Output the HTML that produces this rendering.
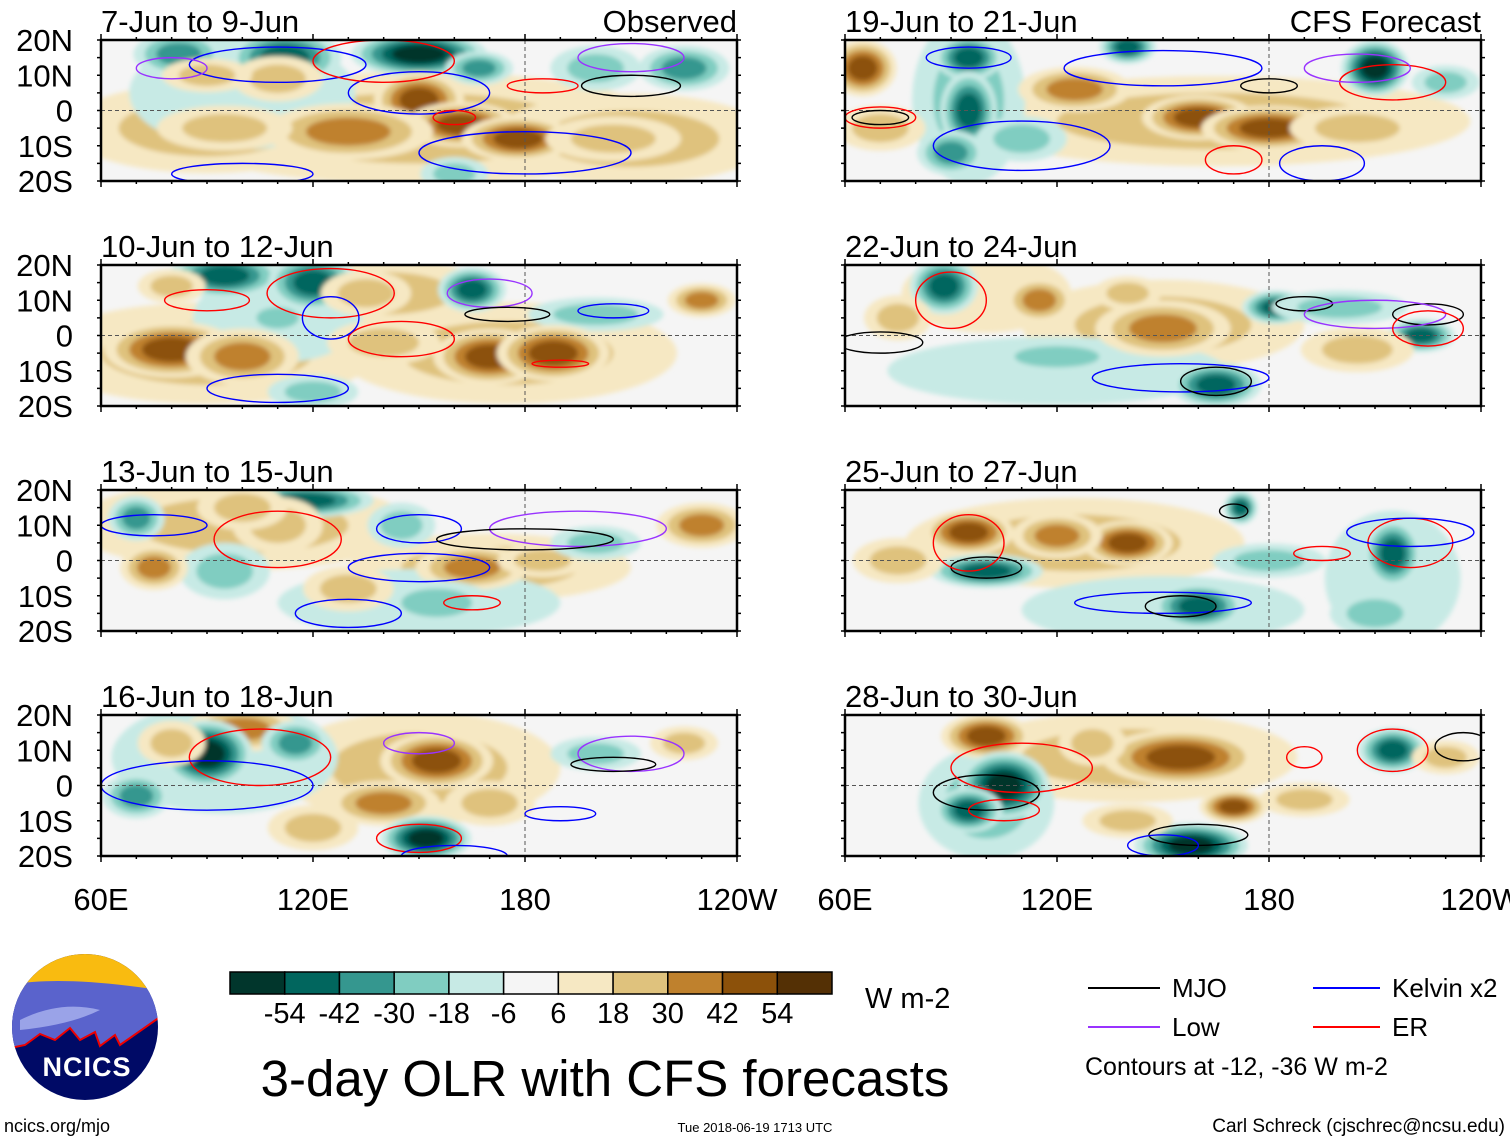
<!DOCTYPE html>
<html><head><meta charset="utf-8"><style>
body{margin:0;background:#fff;width:1510px;height:1142px;overflow:hidden;font-family:"Liberation Sans",sans-serif}
svg text{font-family:"Liberation Sans",sans-serif}
</style></head><body>
<svg id="chart" width="1510" height="1142" viewBox="0 0 1510 1142" xmlns="http://www.w3.org/2000/svg">
<defs><filter id="bl" x="-20%" y="-20%" width="140%" height="140%"><feGaussianBlur stdDeviation="2.5"/></filter></defs>
</svg>
<script>
const NS='http://www.w3.org/2000/svg';
const svg=document.getElementById('chart');
const panelTitles=['7-Jun to 9-Jun','10-Jun to 12-Jun','13-Jun to 15-Jun','16-Jun to 18-Jun','19-Jun to 21-Jun','22-Jun to 24-Jun','25-Jun to 27-Jun','28-Jun to 30-Jun'];
const latLabels=['20N','10N','0','10S','20S'];
const latTicks=[20,10,0,-10,-20];
const lonLabels=['60E','120E','180','120W'];
const lonTicks=[60,120,180,240];
const cbLevels=[-54,-42,-30,-18,-6,6,18,30,42,54];
const cbColors=['#01362c','#01665e','#35978f','#80cdc1','#c7eae5','#f5f5f5','#f6e8c3','#dfc27d','#bf812d','#8c510a','#543005'];
// blobs: [lon, lat, rxDeg, ryDeg, anomaly]
const blobs0=[[150,-5,45,10,15],[90,-5,25,8,15],[210,-8,25,8,15],[100,5,20,10,-10],[82,16,8,4,-35],[112,15,10,5,-40],[150,16,12,4,-60],[167,12,6,3,-30],[200,12,8,4,-25],[225,12,8,4,-30],[150,3,8,5,40],[162,-4,10,4,45],[178,-8,10,4,40],[130,-6,15,5,30],[95,-5,12,4,20],[110,9,8,4,25],[205,-8,12,4,20],[90,10,8,3,15],[160,-18,6,3,-25]];
const blobs1=[[90,-5,30,9,15],[175,-5,30,9,15],[140,12,20,6,15],[110,5,15,8,-12],[95,17,10,4,-40],[120,15,8,5,-45],[165,13,6,4,-45],[110,5,6,3,-25],[200,6,12,3,-20],[230,10,6,3,30],[80,-4,12,5,40],[100,-6,10,5,35],[170,-6,10,5,45],[188,-5,10,5,40],[140,-2,10,4,20],[80,14,6,3,20],[135,12,8,4,25],[120,-16,8,3,-20]];
const blobs2=[[100,10,30,8,15],[170,-2,25,6,15],[150,-12,25,6,-10],[70,12,5,4,-35],[118,17,12,3,-45],[145,10,6,4,-25],[95,-3,8,5,-20],[75,-2,6,4,30],[110,10,8,5,25],[165,-2,10,4,35],[185,0,8,3,25],[155,-12,10,4,-25],[230,10,8,4,35],[100,15,8,4,20],[200,5,8,3,-15],[130,-8,8,4,15]];
const blobs3=[[150,5,25,10,15],[95,8,20,10,-12],[100,16,10,4,30],[90,9,8,6,-55],[115,12,6,4,-35],[155,7,10,5,50],[140,-5,10,4,30],[170,-5,8,4,25],[152,-15,8,4,-55],[200,9,8,3,-25],[70,-3,6,4,-30],[225,12,6,3,25],[120,-12,8,4,20],[80,12,6,4,20]];
const blobs4=[[165,-3,45,8,15],[95,3,10,15,-15],[65,12,6,5,40],[95,15,6,4,-45],[95,0,5,7,-40],[140,18,5,3,-45],[125,6,10,4,30],[160,-2,10,4,45],[180,-5,12,4,40],[205,-5,12,4,25],[210,12,6,5,-60],[230,8,6,3,-25],[110,-8,8,4,-25],[90,-12,6,4,-30],[70,-5,8,4,15]];
const blobs5=[[150,3,25,8,15],[120,-10,30,6,-10],[100,12,15,7,12],[88,14,6,5,-45],[115,10,6,4,30],[150,2,12,5,35],[140,12,6,3,25],[182,8,6,3,-45],[223,0,6,3,-50],[200,8,12,3,-20],[165,-14,8,4,-40],[205,-4,10,4,15],[75,5,6,4,20],[120,-6,12,3,-15]];
const blobs6=[[125,5,30,8,15],[150,-14,25,6,-12],[215,-5,12,12,-12],[95,8,8,4,40],[140,5,8,4,45],[120,7,8,4,30],[100,-3,10,3,-40],[172,15,3,3,-50],[215,2,5,6,-50],[160,-13,8,4,-40],[210,-15,8,4,-20],[180,0,10,3,-15],[75,0,8,4,20]];
const blobs7=[[140,8,30,8,15],[100,-5,12,10,-15],[100,14,8,4,45],[155,8,14,5,50],[170,-6,6,3,40],[105,0,8,6,-55],[95,-7,6,4,-45],[158,-17,10,4,-55],[215,10,6,4,-45],[130,12,6,4,25],[230,8,6,3,20],[190,-4,8,3,20],[140,-10,8,3,20]];
const blobSets=[blobs0,blobs1,blobs2,blobs3,blobs4,blobs5,blobs6,blobs7];
// contours: [lon, lat, rxDeg, ryDeg, type] type 0 MJO 1 Kelvin 2 Low 3 ER
const cont0=[[110,13,25,5,1],[150,5,20,6,1],[180,-12,30,6,1],[210,7,14,3,0],[140,14,20,6,3],[185,7,10,2,3],[160,-2,6,2,3],[210,15,15,4,2],[80,12,10,3,2],[100,-18,20,3,1]];
const cont1=[[125,12,18,7,3],[145,-1,15,5,3],[125,5,8,6,1],[170,12,12,4,2],[175,6,12,2,0],[205,7,10,2,1],[90,10,12,3,3],[190,-8,8,1,3],[110,-15,20,4,1]];
const cont2=[[110,6,18,8,3],[150,9,12,4,1],[195,9,25,5,2],[180,6,25,3,0],[150,-2,20,4,1],[165,-12,8,2,3],[75,10,15,3,1],[130,-15,15,4,1]];
const cont3=[[105,8,20,8,3],[90,0,30,7,1],[150,12,10,3,2],[210,9,15,5,2],[205,6,12,2,0],[150,-15,12,4,3],[190,-8,10,2,1],[160,-20,15,3,1]];
const cont4=[[95,15,12,3,1],[150,12,28,5,1],[70,-2,10,3,3],[70,-2,8,2,0],[215,8,15,5,3],[205,12,15,4,2],[110,-10,25,7,1],[180,7,8,2,0],[195,-15,12,5,1],[170,-14,8,4,3]];
const cont5=[[90,10,10,8,3],[70,-2,12,3,0],[190,9,8,2,0],[225,6,10,3,0],[210,6,20,4,2],[225,2,10,5,3],[155,-12,25,4,1],[165,-13,10,4,0]];
const cont6=[[100,-2,10,3,0],[95,5,10,8,3],[150,-12,25,3,1],[155,-13,10,3,0],[220,5,12,7,3],[220,8,18,4,1],[195,2,8,2,3],[170,14,4,2,0]];
const cont7=[[100,-2,15,5,0],[105,-7,10,3,3],[110,5,20,7,3],[160,-14,14,3,0],[215,10,10,6,3],[235,11,8,4,0],[190,8,5,3,3],[150,-17,10,3,1]];
const contSets=[cont0,cont1,cont2,cont3,cont4,cont5,cont6,cont7];
const contColors=['#000','#0000ff','#9933ff','#ff0000'];

function el(tag,attrs,parent){const e=document.createElementNS(NS,tag);for(const k in attrs)e.setAttribute(k,attrs[k]);(parent||svg).appendChild(e);return e;}
function colorFor(v){let i=0;while(i<cbLevels.length&&v>cbLevels[i])i++;return cbColors[i];}
const PW=636,PH=141,SCALE=1.6;
const panelX=[101,845],panelY=[40,265,490,715];
for(let p=0;p<8;p++){
  const x0=panelX[p<4?0:1],y0=panelY[p%4];
  const sx=lon=>x0+(lon-60)/180*PW, sy=lat=>y0+(20-lat)/40*PH;
  const g=el('g',{});
  
  
  const cp=el('clipPath',{id:'cp'+p},svg);
  el('rect',{x:x0,y:y0,width:PW,height:PH},cp);
  el('rect',{x:x0,y:y0,width:PW,height:PH,fill:'#f5f5f5'},g);
  const bg=el('g',{'clip-path':'url(#cp'+p+')'},g);
  const fg=el('g',{filter:'url(#bl)'},bg);
  blobSets[p].forEach(b=>{
    const [lon,lat,rx,ry,v]=b;
    const steps=[];for(let s=Math.sign(v)*6;Math.abs(s)<=Math.abs(v)+3;s+=Math.sign(v)*12)steps.push(s);
    steps.forEach((s,i)=>{
      const f=1-0.75*i/steps.length;
      const e=el('ellipse',{cx:sx(lon),cy:sy(lat),rx:rx*SCALE*PW/180*f,ry:ry*SCALE*PH/40*f,fill:colorFor(s+Math.sign(v)*1)},fg);
      
      
    });
  });
  el('line',{x1:x0,x2:x0+PW,y1:sy(0),y2:sy(0),stroke:'#555','stroke-dasharray':'4,3','stroke-width':1},bg);
  el('line',{x1:sx(180),x2:sx(180),y1:y0,y2:y0+PH,stroke:'#555','stroke-dasharray':'4,3','stroke-width':1},bg);
  contSets[p].forEach(c=>{
    const [lon,lat,rx,ry,t]=c;
    const e=el('ellipse',{cx:sx(lon),cy:sy(lat),rx:rx*PW/180,ry:ry*PH/40,fill:'none',stroke:contColors[t],'stroke-width':1.4},bg);
    
    
  });
  el('rect',{x:x0,y:y0,width:PW,height:PH,fill:'none',stroke:'#000','stroke-width':2.5},g);
  for(let lon=60;lon<=240;lon+=10){const big=lon%60==0;
    el('line',{x1:sx(lon),x2:sx(lon),y1:y0+PH,y2:y0+PH+(big?6:3),stroke:'#000','stroke-width':1.5},g);
    el('line',{x1:sx(lon),x2:sx(lon),y1:y0,y2:y0-(big?6:3),stroke:'#000','stroke-width':1.5},g);}
  for(let lat=-20;lat<=20;lat+=5){el('line',{x1:x0,x2:x0-4,y1:sy(lat),y2:sy(lat),stroke:'#000','stroke-width':1.5},g);
    el('line',{x1:x0+PW,x2:x0+PW+4,y1:sy(lat),y2:sy(lat),stroke:'#000','stroke-width':1.5},g);}
  const t=el('text',{x:x0,y:y0-8,'font-size':31,fill:'#000'},g);t.textContent=panelTitles[p];
  
  
  if(p==0||p==4){const r=el('text',{x:x0+PW,y:y0-8,'font-size':31,'text-anchor':'end'},g);r.textContent=p==0?'Observed':'CFS Forecast';
    
    }
  if(p<4){latTicks.forEach((lat,i)=>{const tt=el('text',{x:73,y:sy(lat)+11,'font-size':31,'text-anchor':'end'},g);tt.textContent=latLabels[i];
    
    });}
  if(p%4==3){lonTicks.forEach((lon,i)=>{const tt=el('text',{x:sx(lon),y:910,'font-size':31,'text-anchor':'middle'},g);tt.textContent=lonLabels[i];
    
    });}
}
const cbg=el('g',{});


const cbX=230,cbW=602/11;
cbColors.forEach((c,i)=>{el('rect',{x:cbX+i*cbW,y:972,width:cbW,height:22,fill:c,stroke:'#000','stroke-width':1.5},cbg);});
cbLevels.forEach((v,i)=>{const t=el('text',{x:cbX+(i+1)*cbW,y:1023,'font-size':29,'text-anchor':'middle'},cbg);t.textContent=v;});
</script>
<svg style="position:absolute;left:0;top:0" width="1510" height="1142">
<text x="865" y="1008" font-size="29">W m-2</text>
<text x="605" y="1096" font-size="51" text-anchor="middle">3-day OLR with CFS forecasts</text>
<g>
<clipPath id="lc"><circle cx="85" cy="1027" r="73"/></clipPath>
<g clip-path="url(#lc)">
<rect x="10" y="950" width="150" height="155" fill="#000a66"/>
<rect x="10" y="950" width="150" height="40" fill="#f9bb10"/>
<path d="M10 985 Q60 975 160 990 L160 1017 L140 1030 L120 1045 L115 1035 L100 1046 L95 1032 L80 1040 L70 1028 L55 1040 L40 1034 L25 1045 L10 1048 Z" fill="#5a63cc"/>
<path d="M20 1020 Q60 1000 100 1010 Q70 1025 20 1030Z" fill="#9aa3e8"/>
<path d="M10 1048 L25 1045 L40 1034 L55 1040 L70 1028 L80 1040 L95 1032 L100 1046 L115 1035 L120 1045 L160 1017" fill="none" stroke="#e00" stroke-width="2"/>
</g>
<text x="87" y="1076" font-size="27" font-weight="bold" fill="#fff" text-anchor="middle" letter-spacing="1">NCICS</text>
</g>
<text x="4" y="1132" font-size="18">ncics.org/mjo</text>
<text x="755" y="1132" font-size="13" text-anchor="middle">Tue 2018-06-19 1713 UTC</text>
<text x="1505" y="1132" font-size="19" text-anchor="end">Carl Schreck (cjschrec@ncsu.edu)</text>
<g>
<line x1="1088" x2="1160" y1="988" y2="988" stroke="#000" stroke-width="2"/><text x="1172" y="997" font-size="26">MJO</text>
<line x1="1313" x2="1380" y1="988" y2="988" stroke="#0000ff" stroke-width="2"/><text x="1392" y="997" font-size="26">Kelvin x2</text>
<line x1="1088" x2="1160" y1="1027" y2="1027" stroke="#9933ff" stroke-width="2"/><text x="1172" y="1036" font-size="26">Low</text>
<line x1="1313" x2="1380" y1="1027" y2="1027" stroke="#ff0000" stroke-width="2"/><text x="1392" y="1036" font-size="26">ER</text>
<text x="1085" y="1075" font-size="25">Contours at -12, -36 W m-2</text>
</g>
</svg>
</body></html>
